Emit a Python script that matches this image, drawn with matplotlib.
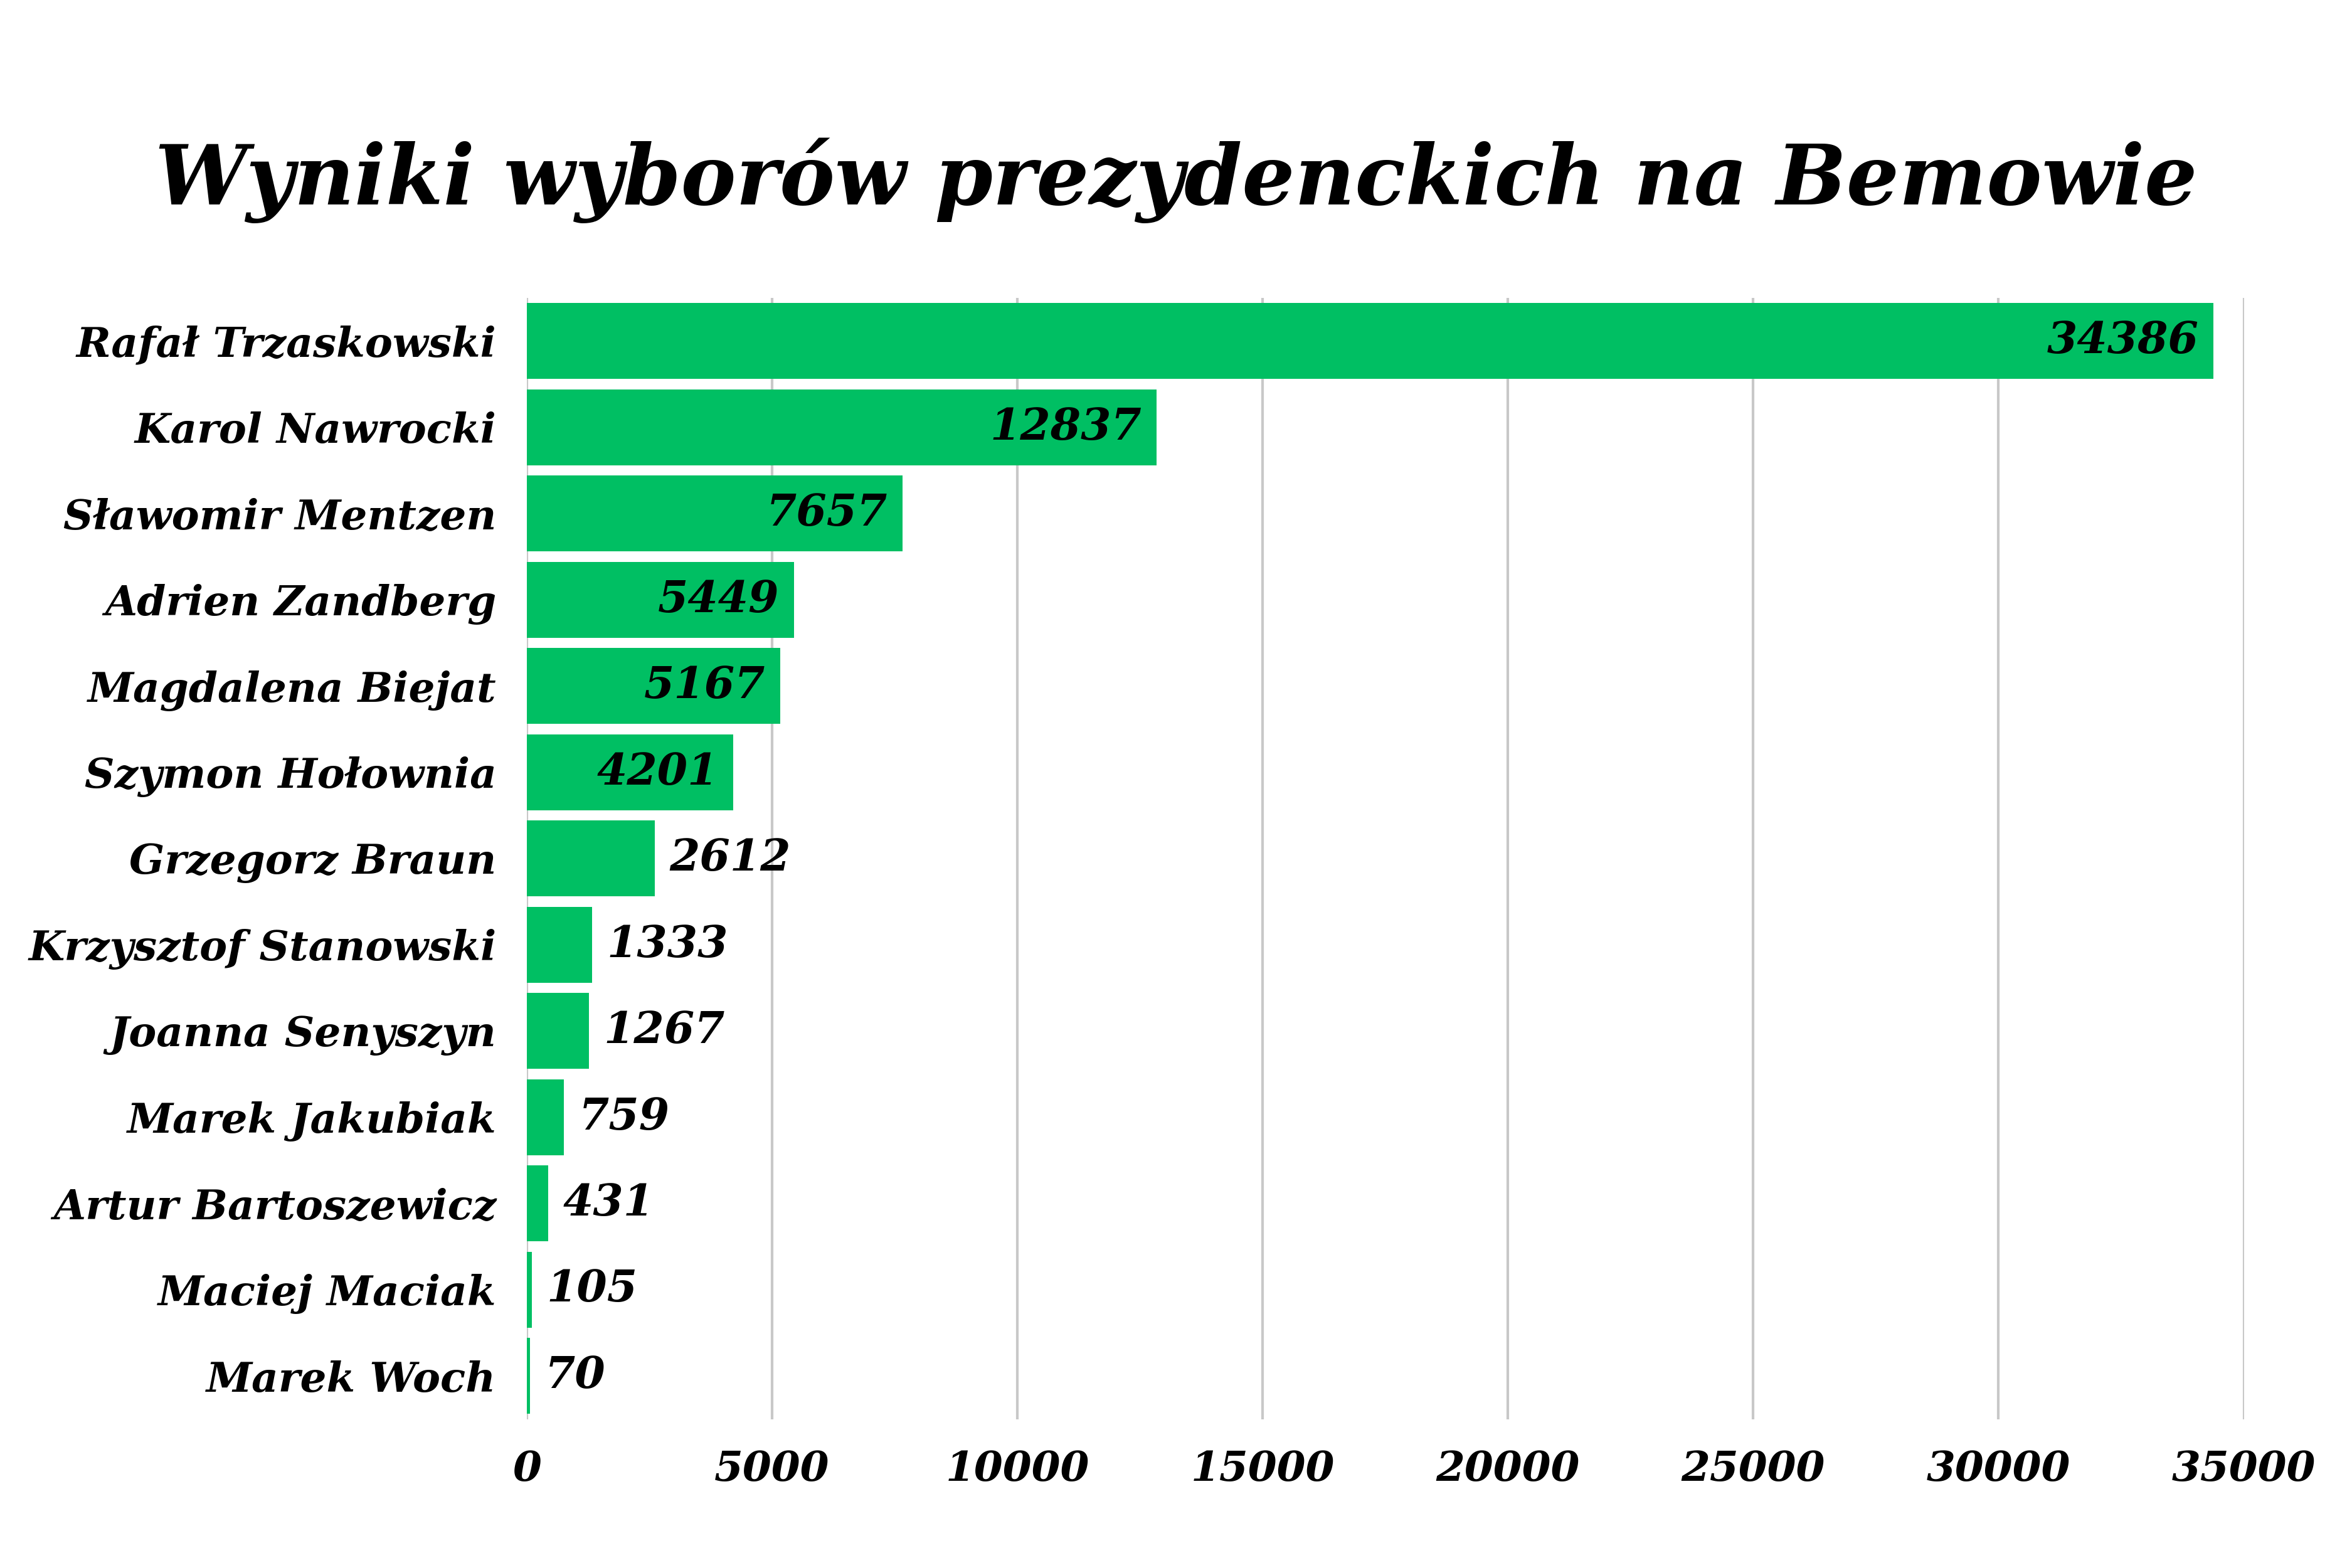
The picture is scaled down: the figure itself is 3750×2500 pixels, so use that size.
import matplotlib
matplotlib.use("Agg")
import matplotlib.pyplot as plt

candidates = ["Rafał Trzaskowski", "Karol Nawrocki", "Sławomir Mentzen", "Adrien Zandberg",
              "Magdalena Biejat", "Szymon Hołownia", "Grzegorz Braun", "Krzysztof Stanowski",
              "Joanna Senyszyn", "Marek Jakubiak", "Artur Bartoszewicz", "Maciej Maciak", "Marek Woch"]
votes = [34386, 12837, 7657, 5449, 5167, 4201, 2612, 1333, 1267, 759, 431, 105, 70]
xticks = [0, 5000, 10000, 15000, 20000, 25000, 30000, 35000]

font = dict(family="DejaVu Serif", style="italic", weight="bold")
fig = plt.figure(figsize=(15, 10), dpi=250)
ax = fig.add_axes([0.224, 0.095, 0.73, 0.715])
y = list(range(len(candidates)))
ax.barh(y, votes, height=0.88, color="#00BF63", zorder=2)
ax.set_ylim(len(candidates) - 0.5, -0.5)
ax.set_xlim(0, 35000)
ax.set_xticks(xticks)
ax.set_xticklabels([str(t) for t in xticks], fontsize=19, **font)
ax.set_yticks(y)
ax.set_yticklabels(candidates, fontsize=19, **font)
ax.tick_params(length=0, pad=14)
ax.grid(axis="x", color="#c8c8c8", linewidth=1.2, zorder=0)
for s in ax.spines.values():
    s.set_visible(False)
for yi, v in zip(y, votes):
    if v >= 4000:
        ax.text(v - 300, yi, str(v), ha="right", va="center", fontsize=20, **font)
    else:
        ax.text(v + 300, yi, str(v), ha="left", va="center", fontsize=20, **font)
fig.text(0.5, 0.885, "Wyniki wyborów prezydenckich na Bemowie", ha="center", va="center",
         fontsize=38, **font)
fig.savefig("out.png", dpi=250, facecolor="white")
